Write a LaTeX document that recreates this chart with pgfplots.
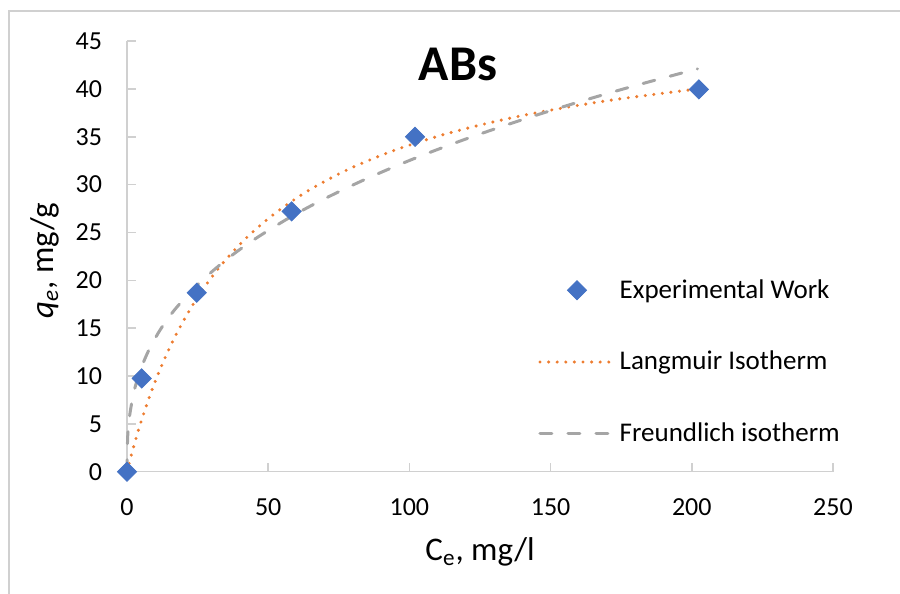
\documentclass[border=0pt]{standalone}
\usepackage{fontspec}
\setmainfont{Carlito}
\usepackage{pgfplots}
\pgfplotsset{compat=1.18}
\definecolor{xlBlue}{HTML}{4472C4}
\definecolor{xlOrange}{HTML}{ED7D31}
\definecolor{xlGray}{HTML}{A5A5A5}
\definecolor{axGray}{HTML}{D0D0D0}

\begin{document}
\begin{tikzpicture}
\useasboundingbox (0,0) rectangle (450pt,297pt);
% chart-area frame (only left and top edges are visible in the crop)
\draw[axGray, line width=0.8pt] (4.5pt,0) -- (4.5pt,291.5pt) -- (450pt,291.5pt);

\begin{axis}[
    at={(63.5pt,61.15pt)}, anchor=south west,
    scale only axis,
    width=353pt, height=215.3pt,
    xmin=0, xmax=250, ymin=0, ymax=45,
    xtick={0,50,...,250},
    ytick={0,5,...,45},
    axis x line*=bottom, axis y line*=left,
    axis line style={axGray, line width=0.8pt},
    tick align=inside,
    major tick length=4.5pt,
    tick style={axGray, line width=0.8pt},
    /pgf/number format/assume math mode=true,
    tick label style={font=\fontsize{13}{15}\selectfont, text=black},
    yticklabel style={xshift=-9pt},
    xticklabel style={yshift=-10pt},
    xlabel={C\textsubscript{e}, mg/l},
    ylabel={\textit{q\textsubscript{e}}, mg/g},
    xlabel style={at={(axis description cs:0.5,-0.1864)}, anchor=center,
      font=\fontsize{16.5}{18}\selectfont},
    ylabel style={at={(axis description cs:-0.117,0.49)}, anchor=center,
      font=\fontsize{16.5}{18}\selectfont},
    clip=false,
    legend style={draw=none, fill=none, at={(0.582,0.2547)}, anchor=west,
      font=\fontsize{13.5}{16}\selectfont, row sep=21pt, inner sep=0pt},
    legend cell align=left,
    legend image code/.code={%
      \draw[mark repeat=2, mark phase=2, #1]
        plot coordinates {(0pt,0pt) (18.5pt,0pt) (37pt,0pt)};},
]
  \node[font=\bfseries\fontsize{25}{28}\selectfont, anchor=center]
    at (axis description cs:0.469,0.9466) {ABs};

  % experimental points
  \addplot[only marks, mark=square*, mark size=3.4pt,
    mark options={fill=xlBlue, draw=xlBlue, rotate=45}] coordinates {
    (0,0) (5.2,9.75) (24.7,18.7) (58.3,27.2) (102,35.0) (202.5,39.95)
  };
  \addlegendentry{Experimental Work}

  % Langmuir fit
  \addplot[xlOrange, line width=1.7pt, line cap=round,
    dash pattern=on 0pt off 4.3pt, smooth] coordinates {
    (0,0) (1,1.15) (2,2.24) (4,4.28) (6,6.15) (9,8.67) (13,11.59)
    (18,14.69) (25,18.24) (33,21.47) (42,24.36) (52,26.91) (64,29.34)
    (78,31.55) (95,33.62) (115,35.47) (140,37.22) (170,38.77) (202,40.0)
  };
  \addlegendentry{Langmuir Isotherm}

  % Freundlich fit
  \addplot[xlGray, line width=1.5pt, line cap=round,
    dash pattern=on 6pt off 8pt, smooth] coordinates {
    (0,0) (0.2,3.32) (0.5,4.65) (1,6.0) (2,7.74) (3,8.98) (5,10.83)
    (8,12.87) (12,14.94) (17,16.97) (25,19.55) (35,22.12) (45,24.26)
    (58,26.63) (70,28.53) (85,30.64) (102,32.76) (120,34.77) (140,36.79)
    (160,38.64) (180,40.35) (202,42.1)
  };
  \addlegendentry{Freundlich isotherm}
\end{axis}
\end{tikzpicture}
\end{document}
